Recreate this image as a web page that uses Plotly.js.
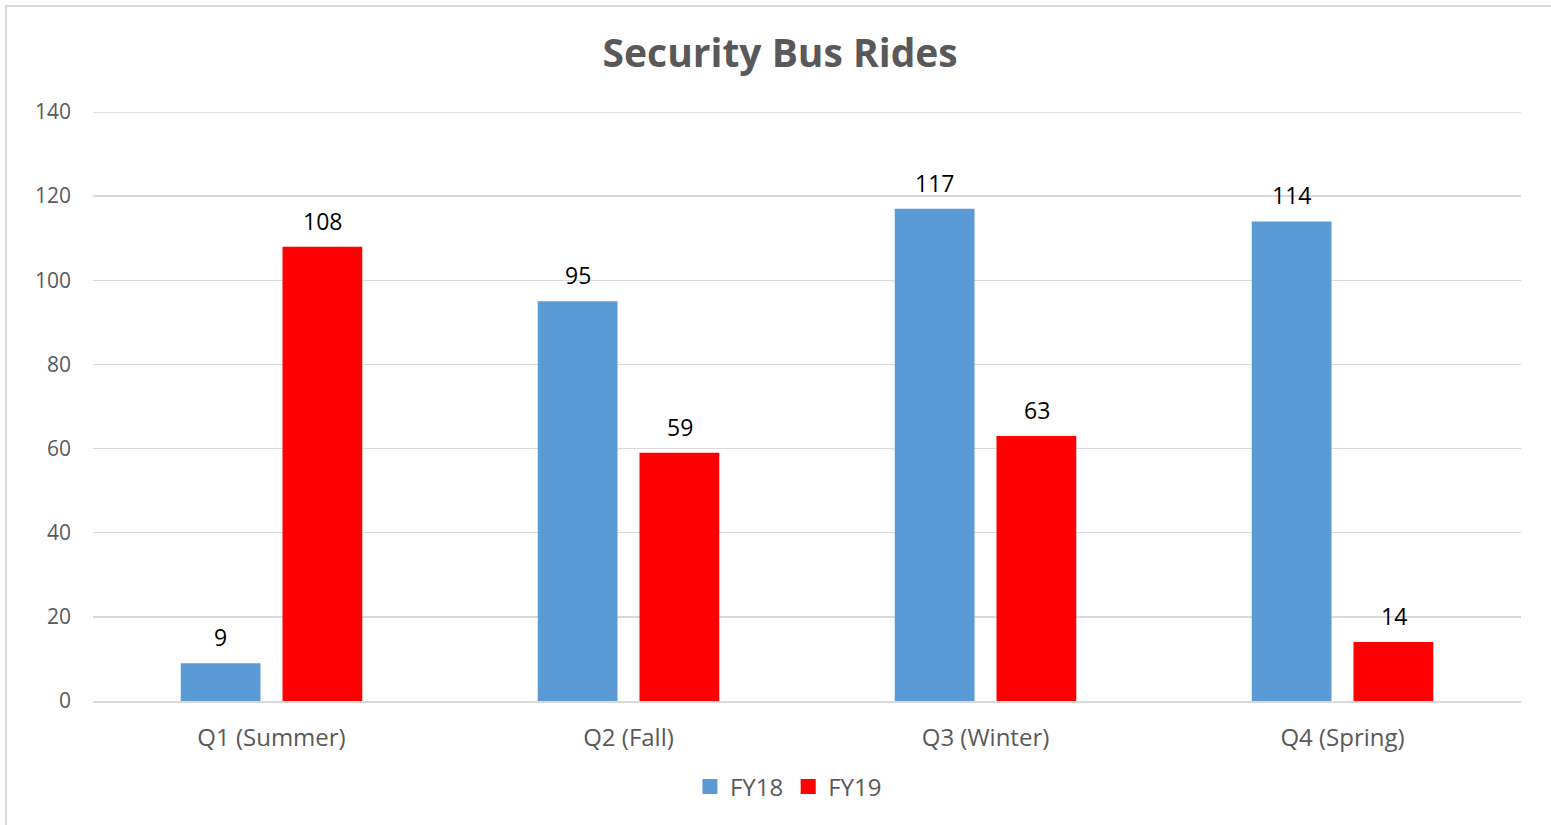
<!DOCTYPE html>
<html>
<head>
<meta charset="utf-8">
<script src="https://cdn.plot.ly/plotly-3.0.1.min.js"></script>
<style>
  body { margin: 0; background: #fff; }
  #chart { width: 1551px; height: 825px; }
</style>
</head>
<body>
<div id="chart"></div>
<script>
const quarters = ["Q1 (Summer)", "Q2 (Fall)", "Q3 (Winter)", "Q4 (Spring)"]
const fy18 = [9, 95, 117, 114]
const fy19 = [108, 59, 63, 14]
const seriesNames = ["FY18", "FY19"]
const yTicks = [0, 20, 40, 60, 80, 100, 120, 140]

const grey = "#595959"
const font = "'Open Sans', 'Noto Sans', sans-serif"
const colors = ["#5b9bd5", "#ff0000"]
const series = [fy18, fy19]

const data = []
series.forEach((values, i) => {
  data.push({
    type: "bar", name: seriesNames[i], x: quarters, y: values,
    marker: {color: colors[i]}, showlegend: false, hoverinfo: "x+y"
  })
})
// legend-only squares
series.forEach((values, i) => {
  data.push({
    type: "scatter", mode: "markers", name: seriesNames[i], x: [quarters[0]], y: [null],
    marker: {color: colors[i], symbol: "square", size: 15}, showlegend: true
  })
})

// value labels above bars
const annotations = []
series.forEach((values, i) => {
  values.forEach((v, j) => {
    annotations.push({
      x: quarters[j], y: v, xref: "x", yref: "y", text: String(v), showarrow: false,
      xshift: i === 0 ? -51 : 51, yshift: 8, yanchor: "bottom",
      font: {color: "#000", size: 23, family: font}
    })
  })
})

const yMax = yTicks[yTicks.length - 1]

Plotly.newPlot("chart", data, {
  width: 1551, height: 825,
  margin: {l: 93, r: 30, t: 112, b: 124, autoexpand: false},
  paper_bgcolor: "#fff", plot_bgcolor: "#fff",
  font: {family: font, color: grey},
  title: {text: "<b>Security Bus Rides</b>", font: {size: 39, color: grey, family: font}, x: 0.503, y: 0.935, xanchor: "center", yanchor: "middle"},
  barmode: "group", bargap: 0.43, bargroupgap: 0.216,
  xaxis: {
    showgrid: false, showline: true, linecolor: "#d9d9d9", linewidth: 2,
    ticks: "", tickfont: {size: 24, color: grey}, ticklabelstandoff: 14, automargin: false
  },
  yaxis: {
    range: [0, yMax], tickvals: yTicks, showgrid: true, gridcolor: "#d9d9d9", gridwidth: 1.3,
    zeroline: false, showline: false, ticks: "", automargin: false,
    tickfont: {size: 21, color: grey}, ticklabelstandoff: 21
  },
  legend: {
    orientation: "h", x: 0.487, xanchor: "center", y: (825 - 787) / 825, yref: "container", yanchor: "middle",
    font: {size: 24, color: grey}, itemwidth: 20, traceorder: "normal"
  },
  annotations,
  shapes: [
    {
      type: "line", xref: "paper", yref: "y", x0: 0, x1: 1, y0: yMax, y1: yMax,
      line: {color: "#d9d9d9", width: 1.3}, layer: "below"
    },
    {
      type: "rect", xref: "paper", yref: "paper",
      x0: (6 - 93) / 1428, x1: (1556 - 93) / 1428,
      y0: -0.3, y1: (701 - 6) / 589,
      line: {color: "#d9d9d9", width: 2}, layer: "below"
    }
  ],
  showlegend: true
}, {displayModeBar: false, staticPlot: true})
</script>
</body>
</html>
